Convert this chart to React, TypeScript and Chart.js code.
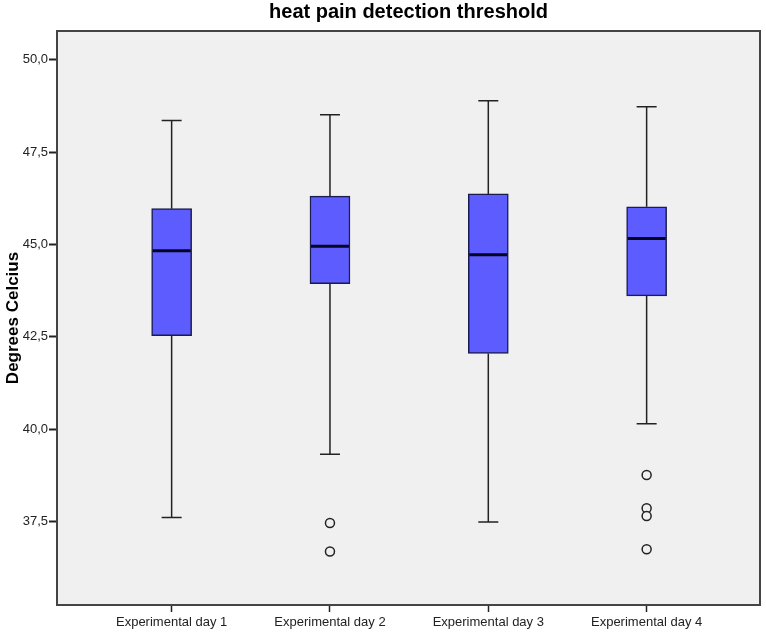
import { useEffect, useRef } from 'react';
import { Chart, registerables } from 'chart.js';

Chart.register(...registerables);

const chartTitle = 'heat pain detection threshold';
const categories = ['Experimental day 1', 'Experimental day 2', 'Experimental day 3', 'Experimental day 4'];
const whiskerLow = [37.61, 39.32, 37.49, 40.15];
const q1 = [42.53, 43.94, 42.05, 43.61];
const median = [44.83, 44.95, 44.72, 45.16];
const q3 = [45.97, 46.31, 46.37, 46.02];
const whiskerHigh = [48.36, 48.51, 48.89, 48.73];
const outliers = [[], [37.46, 36.69], [], [38.76, 37.86, 37.65, 36.75]];
const yTicks = [37.5, 40.0, 42.5, 45.0, 47.5, 50.0];

const FONT = "'Liberation Sans', Arial, sans-serif";

export default function App() {
  const ref = useRef<HTMLCanvasElement>(null);

  useEffect(() => {
    document.body.style.margin = '0';
    const canvas = ref.current!;

    const boxParts = {
      id: 'boxParts',
      beforeDraw(chart: any) {
        const { ctx, chartArea: a } = chart;
        ctx.save();
        ctx.fillStyle = '#ffffff';
        ctx.fillRect(0, 0, chart.width, chart.height);
        ctx.fillStyle = '#f0f0f0';
        ctx.fillRect(a.left, a.top, a.right - a.left, a.bottom - a.top);
        ctx.restore();
      },
      afterDatasetsDraw(chart: any) {
        const { ctx } = chart;
        const xs = chart.scales.x;
        const ys = chart.scales.y;
        ctx.save();
        categories.forEach((_, i) => {
          const cx = xs.getPixelForValue(i + 1);
          const capHalf = 10;
          const boxHalf = 20;
          ctx.strokeStyle = '#222222';
          ctx.lineWidth = 1.5;
          ctx.beginPath();
          ctx.moveTo(cx, ys.getPixelForValue(q3[i]));
          ctx.lineTo(cx, ys.getPixelForValue(whiskerHigh[i]));
          ctx.moveTo(cx - capHalf, ys.getPixelForValue(whiskerHigh[i]));
          ctx.lineTo(cx + capHalf, ys.getPixelForValue(whiskerHigh[i]));
          ctx.moveTo(cx, ys.getPixelForValue(q1[i]));
          ctx.lineTo(cx, ys.getPixelForValue(whiskerLow[i]));
          ctx.moveTo(cx - capHalf, ys.getPixelForValue(whiskerLow[i]));
          ctx.lineTo(cx + capHalf, ys.getPixelForValue(whiskerLow[i]));
          ctx.stroke();
          ctx.strokeStyle = '#050520';
          ctx.lineWidth = 3;
          ctx.beginPath();
          const my = ys.getPixelForValue(median[i]);
          ctx.moveTo(cx - boxHalf + 1, my);
          ctx.lineTo(cx + boxHalf - 1, my);
          ctx.stroke();
        });
        ctx.restore();
      },
      afterDraw(chart: any) {
        const { ctx, chartArea: a } = chart;
        ctx.save();
        ctx.strokeStyle = '#444444';
        ctx.lineWidth = 2;
        ctx.strokeRect(a.left, a.top, a.right - a.left, a.bottom - a.top);
        ctx.fillStyle = '#000';
        ctx.font = `bold 20px ${FONT}`;
        ctx.textAlign = 'center';
        ctx.textBaseline = 'middle';
        ctx.fillText(chartTitle, (a.left + a.right) / 2, 12);
        ctx.restore();
      },
    };

    const chart = new Chart(canvas, {
      type: 'bar',
      data: {
        datasets: [
          {
            type: 'bar',
            data: categories.map((_, i) => ({ x: i + 1, y: [q1[i], q3[i]] })) as any,
            backgroundColor: '#5c5cff',
            borderColor: '#1b1b4d',
            borderWidth: 1.5,
            borderSkipped: false,
            barThickness: 40,
          } as any,
          {
            type: 'scatter',
            data: outliers.flatMap((arr, i) => arr.map((v) => ({ x: i + 1, y: v }))),
            pointRadius: 4.5,
            pointBorderWidth: 1.5,
            pointBackgroundColor: '#f0f0f0',
            pointBorderColor: '#222222',
            showLine: false,
          } as any,
        ],
      },
      options: {
        responsive: false,
        animation: false,
        devicePixelRatio: 1,
        layout: { padding: { left: 0, right: 3, top: 31, bottom: 0 } },
        plugins: {
          legend: { display: false },
          tooltip: { enabled: false },
          title: { display: false },
        },
        scales: {
          x: {
            type: 'linear',
            offset: false,
            min: 0.276,
            max: 4.716,
            afterBuildTicks: (s: any) => {
              s.ticks = categories.map((_, i) => ({ value: i + 1 }));
            },
            afterFit: (s: any) => {
              s.height = 28;
            },
            ticks: {
              autoSkip: false,
              maxRotation: 0,
              padding: 3,
              color: '#222',
              font: { family: FONT, size: 13 },
              callback: (v: any) => categories[Math.round(Number(v)) - 1],
            },
            grid: {
              offset: false,
              drawOnChartArea: false,
              drawTicks: true,
              tickLength: 7,
              tickColor: '#222',
              tickWidth: 1.5,
            },
            border: { display: false },
          },
          y: {
            type: 'linear',
            min: 35.24,
            max: 50.78,
            afterBuildTicks: (s: any) => {
              s.ticks = yTicks.map((v) => ({ value: v }));
            },
            afterFit: (s: any) => {
              s.width = 57;
            },
            ticks: {
              padding: 1,
              color: '#222',
              font: { family: FONT, size: 13 },
              callback: (v: any) => Number(v).toFixed(1).replace('.', ','),
            },
            grid: { drawOnChartArea: false, drawTicks: true, tickLength: 8, tickColor: '#222', tickWidth: 2 },
            border: { display: false },
            title: {
              display: true,
              text: 'Degrees Celcius',
              color: '#000',
              font: { family: FONT, size: 17, weight: 'bold' },
              padding: { top: 3, bottom: 0 },
            },
          },
        },
      } as any,
      plugins: [boxParts],
    });
    return () => chart.destroy();
  }, []);

  return (
    <div style={{ width: 766, height: 633 }}>
      <canvas ref={ref} width={766} height={633} style={{ display: 'block' }} />
    </div>
  );
}
